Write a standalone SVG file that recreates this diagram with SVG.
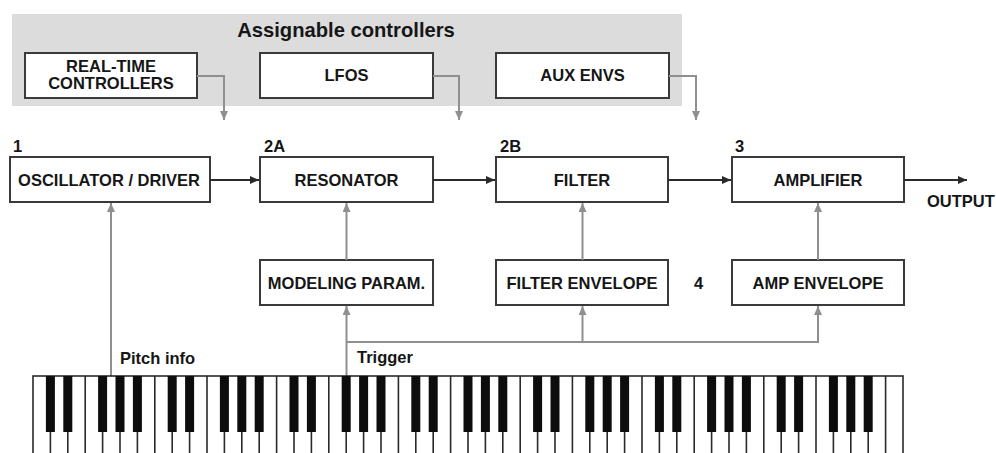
<svg xmlns="http://www.w3.org/2000/svg" width="996" height="453" viewBox="0 0 996 453">
<defs>
<style>
.box{fill:#fff;stroke:#3a3a3a;stroke-width:2}
.t{font-family:"Liberation Sans",Arial,sans-serif;font-weight:bold;font-size:16.5px;fill:#161616}
.c{text-anchor:middle}
.g{fill:none;stroke:#8f8f8f;stroke-width:2}
.k{fill:none;stroke:#2a2a2a;stroke-width:2}
.wk{stroke:#2a2a2a;stroke-width:1.6}
.bk{fill:#0d0d0d}
</style>
<marker id="ag" markerUnits="userSpaceOnUse" markerWidth="10" markerHeight="8" refX="9" refY="4" orient="auto"><path d="M0,0 L9,4 L0,8 z" fill="#8f8f8f"/></marker>
<marker id="ak" markerUnits="userSpaceOnUse" markerWidth="10" markerHeight="8" refX="9" refY="4" orient="auto"><path d="M0,0 L9,4 L0,8 z" fill="#2a2a2a"/></marker>
</defs>
<rect width="996" height="453" fill="#fff"/>
<g id="assignable">
<rect x="12" y="14" width="670" height="92" fill="#dcdcdc"/>
<text class="t c" x="346" y="37" style="font-size:20.2px">Assignable controllers</text>
</g>
<g id="realtime">
<rect class="box" x="25" y="53" width="172" height="45"/>
<text class="t c" x="111" y="72">REAL-TIME</text>
<text class="t c" x="111" y="89">CONTROLLERS</text>
</g>
<g id="lfos">
<rect class="box" x="260" y="53" width="173" height="45"/>
<text class="t c" x="346.5" y="81">LFOS</text>
</g>
<g id="auxenvs">
<rect class="box" x="496" y="53" width="173" height="45"/>
<text class="t c" x="582.5" y="81">AUX ENVS</text>
</g>
<g id="oscillator">
<rect class="box" x="10" y="157" width="200" height="45"/>
<text class="t" x="13" y="152">1</text>
<text class="t c" x="109" y="186">OSCILLATOR / DRIVER</text>
</g>
<g id="resonator">
<rect class="box" x="260" y="157" width="173" height="45"/>
<text class="t" x="264" y="152">2A</text>
<text class="t c" x="346.5" y="186">RESONATOR</text>
</g>
<g id="filter">
<rect class="box" x="496" y="157" width="172" height="45"/>
<text class="t" x="500" y="152">2B</text>
<text class="t c" x="582" y="186">FILTER</text>
</g>
<g id="amplifier">
<rect class="box" x="732" y="157" width="172" height="45"/>
<text class="t" x="735" y="152">3</text>
<text class="t c" x="818" y="186">AMPLIFIER</text>
</g>
<g id="modeling">
<rect class="box" x="260" y="260" width="173" height="45"/>
<text class="t c" x="346.5" y="289">MODELING PARAM.</text>
</g>
<g id="filterenv">
<rect class="box" x="496" y="260" width="172" height="45"/>
<text class="t c" x="582" y="289">FILTER ENVELOPE</text>
</g>
<g id="ampenv">
<rect class="box" x="732" y="260" width="172" height="45"/>
<text class="t" x="694" y="289">4</text>
<text class="t c" x="818" y="289">AMP ENVELOPE</text>
</g>
<g id="connectors">
<polyline class="g" points="197,76 224,76 224,120" marker-end="url(#ag)"/>
<polyline class="g" points="433,76 459,76 459,120" marker-end="url(#ag)"/>
<polyline class="g" points="669,76 696,76 696,120" marker-end="url(#ag)"/>
<line class="k" x1="210" y1="180" x2="259" y2="180" marker-end="url(#ak)"/>
<line class="k" x1="433" y1="180" x2="495" y2="180" marker-end="url(#ak)"/>
<line class="k" x1="668" y1="180" x2="731" y2="180" marker-end="url(#ak)"/>
<line class="k" x1="904" y1="180" x2="967" y2="180" marker-end="url(#ak)"/>
<line class="g" x1="111" y1="376" x2="111" y2="203" marker-end="url(#ag)"/>
<line class="g" x1="346.5" y1="260" x2="346.5" y2="203" marker-end="url(#ag)"/>
<line class="g" x1="582.5" y1="260" x2="582.5" y2="203" marker-end="url(#ag)"/>
<line class="g" x1="818" y1="260" x2="818" y2="203" marker-end="url(#ag)"/>
<line class="g" x1="346.5" y1="376" x2="346.5" y2="306" marker-end="url(#ag)"/>
<polyline class="g" points="346.5,342 818,342 818,306" marker-end="url(#ag)"/>
<line class="g" x1="582.5" y1="342" x2="582.5" y2="306" marker-end="url(#ag)"/>
</g>
<g id="labels">
<text class="t" x="927" y="207">OUTPUT</text>
<text class="t" x="120" y="364">Pitch info</text>
<text class="t" x="357" y="363">Trigger</text>
</g>
<g id="keyboard">
<rect x="33" y="376" width="870" height="90" fill="#fff" stroke="#2a2a2a" stroke-width="1.6"/>
<path class="wk" d="M50.4,376V453M67.8,376V453M85.2,376V453M102.6,376V453M120,376V453M137.4,376V453M154.8,376V453M172.2,376V453M189.6,376V453M207,376V453M224.4,376V453M241.8,376V453M259.2,376V453M276.6,376V453M294,376V453M311.4,376V453M328.8,376V453M346.2,376V453M363.6,376V453M381,376V453M398.4,376V453M415.8,376V453M433.2,376V453M450.6,376V453M468,376V453M485.4,376V453M502.8,376V453M520.2,376V453M537.6,376V453M555,376V453M572.4,376V453M589.8,376V453M607.2,376V453M624.6,376V453M642,376V453M659.4,376V453M676.8,376V453M694.2,376V453M711.6,376V453M729,376V453M746.4,376V453M763.8,376V453M781.2,376V453M798.6,376V453M816,376V453M833.4,376V453M850.8,376V453M868.2,376V453M885.6,376V453"/>
<g class="bk">
<rect x="45.9" y="376" width="9" height="56"/><rect x="63.3" y="376" width="9" height="56"/><rect x="98.1" y="376" width="9" height="56"/><rect x="115.5" y="376" width="9" height="56"/><rect x="132.9" y="376" width="9" height="56"/>
<rect x="167.7" y="376" width="9" height="56"/><rect x="185.1" y="376" width="9" height="56"/><rect x="219.9" y="376" width="9" height="56"/><rect x="237.3" y="376" width="9" height="56"/><rect x="254.7" y="376" width="9" height="56"/>
<rect x="289.5" y="376" width="9" height="56"/><rect x="306.9" y="376" width="9" height="56"/><rect x="341.7" y="376" width="9" height="56"/><rect x="359.1" y="376" width="9" height="56"/><rect x="376.5" y="376" width="9" height="56"/>
<rect x="411.3" y="376" width="9" height="56"/><rect x="428.7" y="376" width="9" height="56"/><rect x="463.5" y="376" width="9" height="56"/><rect x="480.9" y="376" width="9" height="56"/><rect x="498.3" y="376" width="9" height="56"/>
<rect x="533.1" y="376" width="9" height="56"/><rect x="550.5" y="376" width="9" height="56"/><rect x="585.3" y="376" width="9" height="56"/><rect x="602.7" y="376" width="9" height="56"/><rect x="620.1" y="376" width="9" height="56"/>
<rect x="654.9" y="376" width="9" height="56"/><rect x="672.3" y="376" width="9" height="56"/><rect x="707.1" y="376" width="9" height="56"/><rect x="724.5" y="376" width="9" height="56"/><rect x="741.9" y="376" width="9" height="56"/>
<rect x="776.7" y="376" width="9" height="56"/><rect x="794.1" y="376" width="9" height="56"/><rect x="828.9" y="376" width="9" height="56"/><rect x="846.3" y="376" width="9" height="56"/><rect x="863.7" y="376" width="9" height="56"/>
</g>
</g>
</svg>
